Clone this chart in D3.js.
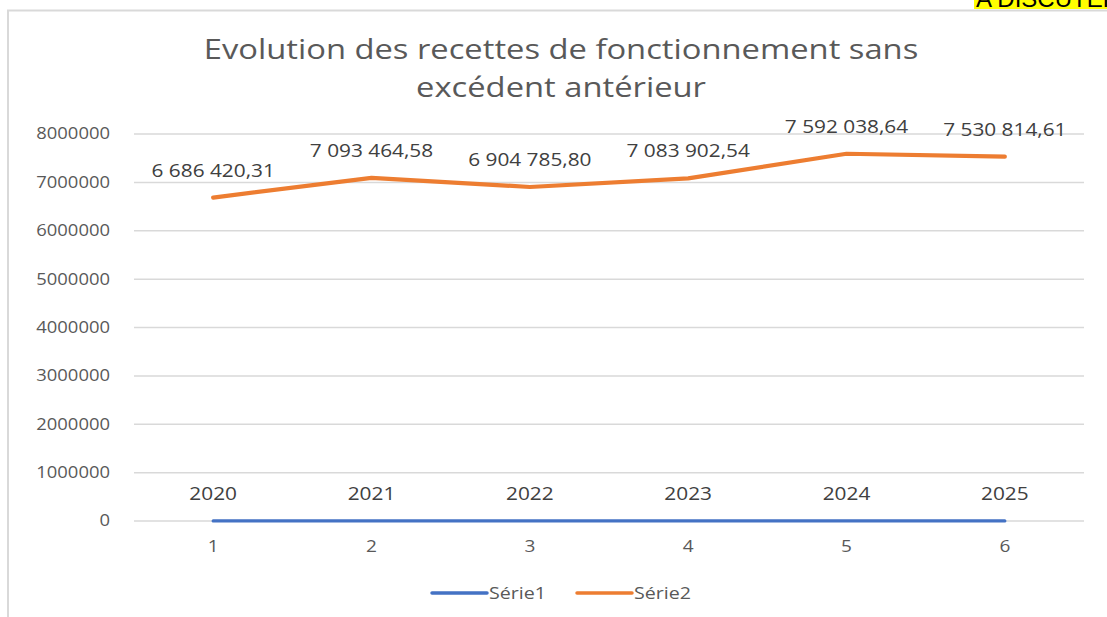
<!DOCTYPE html>
<html><head><meta charset="utf-8">
<script src="https://cdn.jsdelivr.net/npm/d3@7"></script>
<style>body{margin:0;background:#fff}svg{display:block}text{font-family:"Open Sans","Noto Sans",sans-serif}</style>
</head><body>
<script>
const categories = [1, 2, 3, 4, 5, 6];
const serie1 = [2020, 2021, 2022, 2023, 2024, 2025];
const serie2 = [6686420.31, 7093464.58, 6904785.80, 7083902.54, 7592038.64, 7530814.61];
const serie2Labels = ["6 686 420,31", "7 093 464,58", "6 904 785,80", "7 083 902,54", "7 592 038,64", "7 530 814,61"];
const yTicks = [0, 1000000, 2000000, 3000000, 4000000, 5000000, 6000000, 7000000, 8000000];
const seriesNames = ["Série1", "Série2"];
const titleLines = ["Evolution des recettes de fonctionnement sans", "excédent antérieur"];
const noteText = "A DISCUTER";

const W = 1107, H = 617;
const SX = 1.19; // horizontal stretch of the reference lettering
const svg = d3.select("body").append("svg").attr("width", W).attr("height", H);

function put(g, x, y, txt, size, fill, anchor) {
  return g.append("text").attr("transform", `translate(${x},${y}) scale(${SX},1)`)
    .attr("text-anchor", anchor || "start").attr("font-size", size).attr("fill", fill).text(txt);
}

// yellow note (cut by the top of the page as in the reference)
svg.append("rect").attr("x", 974).attr("y", 0).attr("width", 133).attr("height", 9).attr("fill", "#ffff00");
svg.append("text").attr("x", 976).attr("y", 7).attr("font-size", 24).attr("fill", "#000")
  .style("font-family", "Liberation Sans").text(noteText);

// chart border
svg.append("path").attr("d", `M8,${H} V10.5 H${W}`).attr("fill", "none").attr("stroke", "#d9d9d9").attr("stroke-width", 2);

const x = d3.scaleBand().domain(categories).range([134, 1084]);
const y = d3.scaleLinear().domain([0, 8000000]).range([521, 134]);
const cx = d => x(d) + x.bandwidth() / 2;

// title
const tg = svg.append("g");
titleLines.forEach((t, i) => put(tg, 561, 59 + i * 38, t, 27.5, "#595959", "middle"));

// gridlines
svg.append("g").selectAll("line").data(yTicks).join("line")
  .attr("x1", 134).attr("x2", 1084).attr("y1", d => y(d)).attr("y2", d => y(d))
  .attr("stroke", "#d9d9d9").attr("stroke-width", 1.5);

// y axis
const yAxis = svg.append("g").attr("transform", "translate(110,0)")
  .call(d3.axisLeft(y).tickValues(yTicks).tickFormat(d => String(d)).tickSize(0).tickPadding(0));
yAxis.select(".domain").remove();
yAxis.selectAll("text").attr("font-size", 15.5).attr("fill", "#595959")
  .style("font-family", '"Open Sans",sans-serif').attr("transform", `scale(${SX},1)`);

// x axis
const xAxis = svg.append("g").attr("transform", "translate(0,541)")
  .call(d3.axisBottom(x).tickSize(0).tickPadding(0));
xAxis.select(".domain").remove();
xAxis.selectAll("text").attr("font-size", 16).attr("fill", "#595959")
  .style("font-family", '"Open Sans",sans-serif').attr("transform", `scale(${SX},1)`);

// lines
const lineGen = d3.line().x((d, i) => cx(categories[i])).y(d => y(d));
svg.append("path").datum(serie1).attr("d", lineGen).attr("fill", "none")
  .attr("stroke", "#4472c4").attr("stroke-width", 3.2).attr("stroke-linecap", "round");
svg.append("path").datum(serie2).attr("d", lineGen).attr("fill", "none")
  .attr("stroke", "#ed7d31").attr("stroke-width", 4.2).attr("stroke-linecap", "round").attr("stroke-linejoin", "round");

// data labels
const dl = svg.append("g");
serie1.forEach((d, i) => put(dl, cx(categories[i]), y(d) - 21, String(d), 17.5, "#404040", "middle"));
serie2.forEach((d, i) => put(dl, cx(categories[i]), y(d) - 21, serie2Labels[i], 17.5, "#404040", "middle"));

// legend
const legColors = ["#4472c4", "#ed7d31"];
const legX = [431, 576];
const lg = svg.append("g");
seriesNames.forEach((n, i) => {
  lg.append("line").attr("x1", legX[i] + 1).attr("x2", legX[i] + 56).attr("y1", 593).attr("y2", 593)
    .attr("stroke", legColors[i]).attr("stroke-width", 3.5).attr("stroke-linecap", "round");
  put(lg, legX[i] + 58, 599, n, 16.5, "#595959", "start");
});
</script>
</body></html>
